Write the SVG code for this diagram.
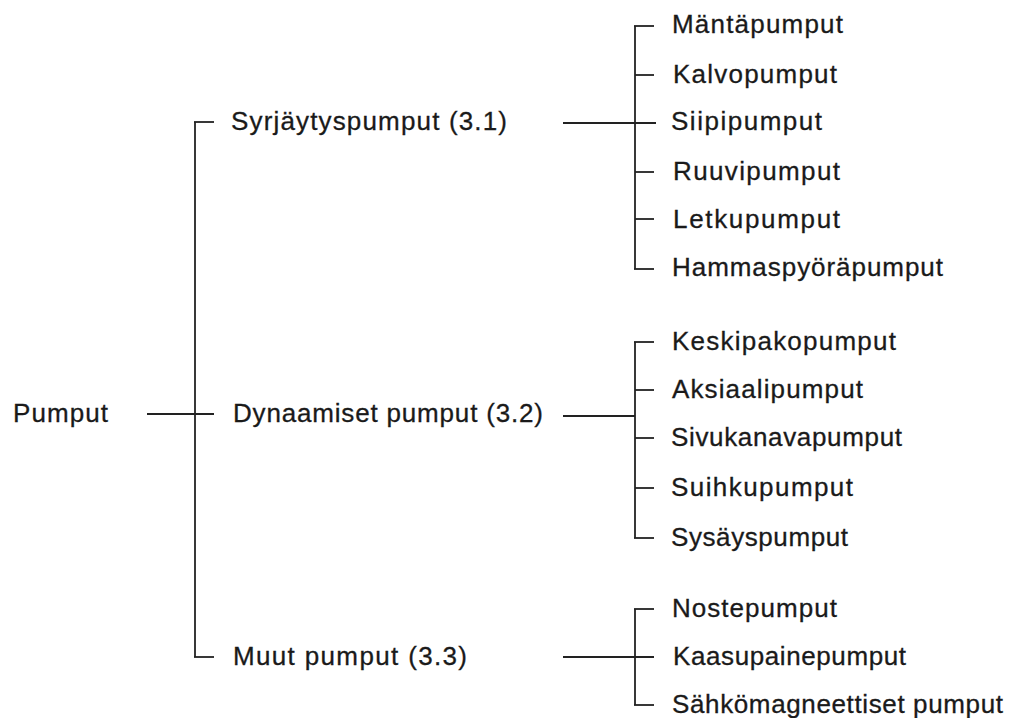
<svg xmlns="http://www.w3.org/2000/svg" width="1010" height="718" viewBox="0 0 1010 718">
<style>
text{font-family:"Liberation Sans",Arial,sans-serif;font-size:26px;fill:#1a1a1a;stroke:#1a1a1a;stroke-width:0.3}
.c line{stroke:#222;stroke-width:1.8;fill:none}
</style>
<rect width="1010" height="718" fill="#fff"/>
<g id="connectors" class="c">
<line x1="195" y1="122" x2="195" y2="657"/>
<line x1="194" y1="122" x2="214" y2="122"/>
<line x1="147" y1="414" x2="214" y2="414"/>
<line x1="194" y1="657" x2="214" y2="657"/>
<line x1="563" y1="123" x2="656" y2="123"/>
<line x1="635" y1="26" x2="635" y2="269"/>
<line x1="634" y1="26" x2="654" y2="26"/>
<line x1="635" y1="75" x2="654" y2="75"/>
<line x1="635" y1="172" x2="654" y2="172"/>
<line x1="635" y1="219" x2="654" y2="219"/>
<line x1="634" y1="269" x2="654" y2="269"/>
<line x1="563" y1="416" x2="635" y2="416"/>
<line x1="635" y1="342" x2="635" y2="538"/>
<line x1="634" y1="342" x2="654" y2="342"/>
<line x1="635" y1="390" x2="654" y2="390"/>
<line x1="635" y1="438" x2="654" y2="438"/>
<line x1="635" y1="488" x2="654" y2="488"/>
<line x1="634" y1="538" x2="654" y2="538"/>
<line x1="563" y1="657" x2="654" y2="657"/>
<line x1="635" y1="609" x2="635" y2="705"/>
<line x1="634" y1="609" x2="654" y2="609"/>
<line x1="634" y1="705" x2="654" y2="705"/>
</g>
<g id="n-pumput"><text x="13" y="422" textLength="95" lengthAdjust="spacing">Pumput</text></g>
<g id="n-syrjaytys"><text x="231" y="130" textLength="276" lengthAdjust="spacing">Syrjäytyspumput (3.1)</text></g>
<g id="n-dynaamiset"><text x="233" y="422" textLength="310" lengthAdjust="spacing">Dynaamiset pumput (3.2)</text></g>
<g id="n-muut"><text x="233" y="665" textLength="234" lengthAdjust="spacing">Muut pumput (3.3)</text></g>
<g id="n-manta"><text x="672" y="33" textLength="171" lengthAdjust="spacing">Mäntäpumput</text></g>
<g id="n-kalvo"><text x="673" y="83" textLength="164" lengthAdjust="spacing">Kalvopumput</text></g>
<g id="n-siipi"><text x="671" y="130" textLength="151" lengthAdjust="spacing">Siipipumput</text></g>
<g id="n-ruuvi"><text x="673" y="180" textLength="167" lengthAdjust="spacing">Ruuvipumput</text></g>
<g id="n-letku"><text x="673" y="228" textLength="167" lengthAdjust="spacing">Letkupumput</text></g>
<g id="n-hammas"><text x="672" y="276" textLength="271" lengthAdjust="spacing">Hammaspyöräpumput</text></g>
<g id="n-keski"><text x="672" y="350" textLength="224" lengthAdjust="spacing">Keskipakopumput</text></g>
<g id="n-aksiaali"><text x="672" y="398" textLength="191" lengthAdjust="spacing">Aksiaalipumput</text></g>
<g id="n-sivu"><text x="671" y="446" textLength="231" lengthAdjust="spacing">Sivukanavapumput</text></g>
<g id="n-suihku"><text x="671" y="496" textLength="182" lengthAdjust="spacing">Suihkupumput</text></g>
<g id="n-sysays"><text x="671" y="546" textLength="177" lengthAdjust="spacing">Sysäyspumput</text></g>
<g id="n-noste"><text x="672" y="617" textLength="165" lengthAdjust="spacing">Nostepumput</text></g>
<g id="n-kaasu"><text x="673" y="665" textLength="233" lengthAdjust="spacing">Kaasupainepumput</text></g>
<g id="n-sahko"><text x="672" y="713" textLength="331" lengthAdjust="spacing">Sähkömagneettiset pumput</text></g>
</svg>
